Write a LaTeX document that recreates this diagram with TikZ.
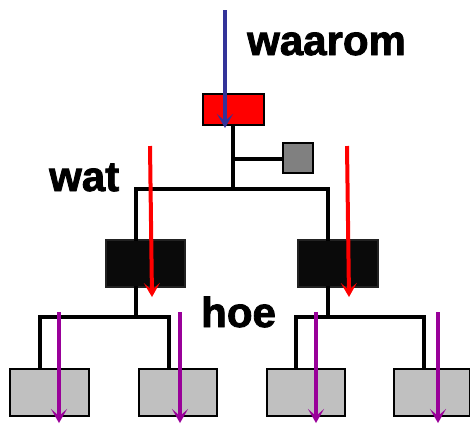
\documentclass[tikz,border=0pt]{standalone}
\usepackage{fontspec}
\setmainfont{Liberation Sans}
\newfontfamily\heavy[FakeBold=2]{Liberation Sans Bold}
\usetikzlibrary{arrows.meta}
\definecolor{boxred}{HTML}{FF0000}
\definecolor{boxgray}{HTML}{808080}
\definecolor{leafgray}{HTML}{C0C0C0}
\definecolor{boxblack}{HTML}{0A0A0A}
\definecolor{arrblue}{HTML}{333399}
\definecolor{arrred}{HTML}{FF0000}
\definecolor{arrpurple}{HTML}{990099}
\tikzset{
  box/.style={draw=black, line width=2pt, inner sep=0pt, anchor=north west},
  link/.style={draw=black, line width=4pt, line cap=rect},
  flow/.style={line width=4pt, -{Stealth[length=14pt,width=16pt,inset=7pt]}},
  lbl/.style={font=\heavy\fontsize{42}{42}\selectfont, anchor=base west, inner sep=0pt}
}
\begin{document}
\begin{tikzpicture}[x=1pt,y=-1pt]
\useasboundingbox (0,0) rectangle (470,424);
% boxes
\node[box, fill=boxred, minimum width=61pt, minimum height=31pt] (top) at (202,93) {};
\node[box, fill=boxgray, minimum width=30pt, minimum height=30pt] (sq) at (282,142) {};
\node[box, draw=boxblack!80!gray, fill=boxblack, minimum width=79pt, minimum height=47pt] (bl) at (105,239) {};
\node[box, draw=boxblack!80!gray, fill=boxblack, minimum width=80pt, minimum height=47pt] (br) at (297,239) {};
\node[box, fill=leafgray, minimum width=79pt, minimum height=47pt] (l1) at (9,368) {};
\node[box, fill=leafgray, minimum width=78pt, minimum height=47pt] (l2) at (138,368) {};
\node[box, fill=leafgray, minimum width=78pt, minimum height=47pt] (l3) at (266,368) {};
\node[box, fill=leafgray, minimum width=76pt, minimum height=47pt] (l4) at (393,368) {};
% junctions
\coordinate (j0) at (233,189);
\coordinate (jl) at (136,317);
\coordinate (jr) at (328,317);
% tree links
\draw[link] (top.south -| j0) -- (j0);
\draw[link] (top.south -| j0) ++(0,33) coordinate (js) -- (sq.west |- js);
\draw[link] (jl |- bl.north) |- (j0) -| (jr |- br.north);
\draw[link] (bl.south -| jl) -- (jl);
\draw[link] (br.south -| jr) -- (jr);
\draw[link] (40,368) coordinate (c1) -- (c1 |- jl) -- (169,317) coordinate (c2) -- (169,368);
\draw[link] (296,368) coordinate (c3) -- (c3 |- jr) -- (424,317) coordinate (c4) -- (424,368);
% arrows
\coordinate (b0) at (225,10); \coordinate (b1) at (225,128);
\draw[flow, arrblue] (b0) -- (b1);
\coordinate (r0) at (150,146); \coordinate (r1) at (152,297);
\draw[flow, arrred] (r0) -- (r1);
\coordinate (r2) at (347,146); \coordinate (r3) at (349,297);
\draw[flow, arrred] (r2) -- (r3);
\foreach \x/\n in {59/p1,180/p2,316/p3,438/p4}{
  \coordinate (\n s) at (\x,312); \coordinate (\n e) at (\x,423);
  \draw[flow, arrpurple] (\n s) -- (\n e);
}
% labels
\node[lbl] (waarom) at (247,55) {waarom};
\node[lbl] (wat) at (49,191) {wat};
\node[lbl] (hoe) at (201,327) {hoe};
\end{tikzpicture}
\end{document}
